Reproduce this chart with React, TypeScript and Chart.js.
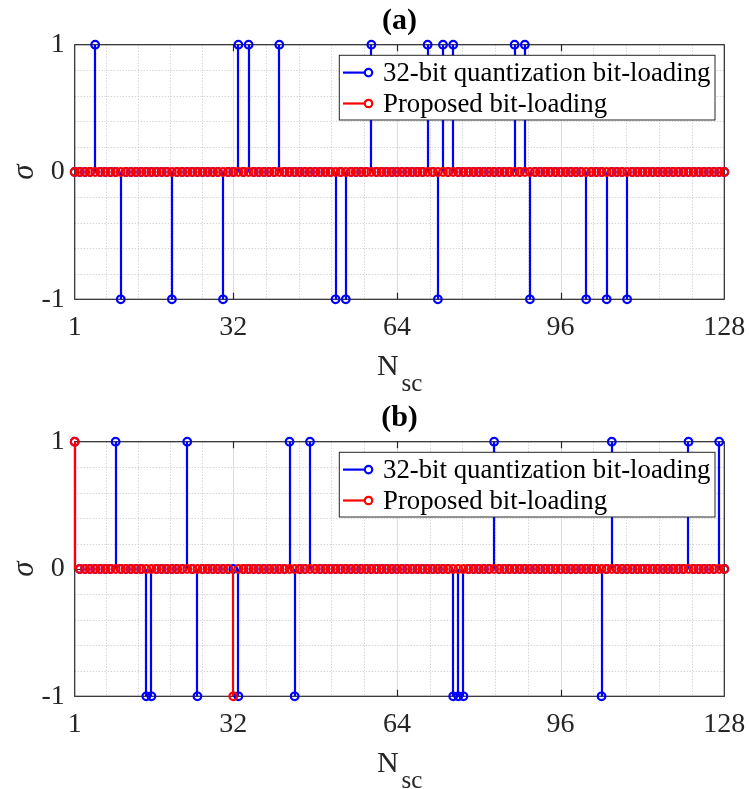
import React, { useEffect, useRef } from "react";
import { Chart, registerables } from "chart.js";

Chart.register(...registerables);

// ---------- data ----------
const N_SC: number[] = Array.from({ length: 128 }, (_, i) => i + 1);
const X_TICKS = [1, 32, 64, 96, 128];
const Y_TICKS = [-1, 0, 1];
const LEGEND_LABELS = ["32-bit quantization bit-loading", "Proposed bit-loading"];

// (a) 32-bit quantization bit-loading: subcarriers with sigma = +1 / -1
const A_QUANT_UP = [5, 33, 35, 41, 59, 70, 73, 75, 87, 89];
const A_QUANT_DOWN = [10, 20, 30, 52, 54, 72, 90, 101, 105, 109];
// (a) proposed bit-loading
const A_PROP_UP: number[] = [];
const A_PROP_DOWN: number[] = [];

// (b) 32-bit quantization bit-loading
const B_QUANT_UP = [1, 9, 23, 43, 47, 83, 106, 121, 127];
const B_QUANT_DOWN = [15, 16, 25, 33, 44, 75, 76, 77, 104];
// (b) proposed bit-loading
const B_PROP_UP = [1];
const B_PROP_DOWN = [32];

const BLUE = "#0000ff";
const RED = "#ff0000";
const FONT = '"Liberation Serif", "Times New Roman", Times, serif';

function series(up: number[], down: number[]) {
  return N_SC.map((n) => ({ x: n, y: up.includes(n) ? 1 : down.includes(n) ? -1 : 0 }));
}

// ---------- plugins ----------
const PLOT_TOP = 44.7;
const PLOT_BOTTOM = 299.3;
const PLOT_LEFT = 74.7;
const PLOT_RIGHT = 724.3;

const stemPlugin = {
  id: "stems",
  beforeDatasetDraw(chart: any, args: any) {
    const meta = args.meta;
    const ds = chart.data.datasets[args.index];
    const y0 = chart.scales.y.getPixelForValue(0);
    const ctx = chart.ctx;
    ctx.save();
    ctx.strokeStyle = ds.borderColor;
    ctx.lineWidth = 2.2;
    ctx.beginPath();
    meta.data.forEach((pt: any) => {
      if (Math.abs(pt.y - y0) > 0.5) {
        const x = Math.round(pt.x);
        ctx.moveTo(x, y0);
        ctx.lineTo(x, pt.y);
      }
    });
    ctx.stroke();
    ctx.restore();
  },
};

const gridPlugin = {
  id: "matlabGrid",
  beforeDatasetsDraw(chart: any) {
    const ctx = chart.ctx;
    const { left, right, top, bottom } = chart.chartArea;
    const xs = chart.scales.x;
    const ys = chart.scales.y;
    ctx.save();
    // minor dotted grid
    ctx.strokeStyle = "#c4c4c4";
    ctx.lineWidth = 1;
    ctx.setLineDash([1, 2]);
    ctx.beginPath();
    for (let i = 0; i < X_TICKS.length - 1; i++) {
      const a = X_TICKS[i], b = X_TICKS[i + 1];
      for (let k = 1; k < 5; k++) {
        const px = Math.round(xs.getPixelForValue(a + ((b - a) * k) / 5)) + 0.5;
        ctx.moveTo(px, top);
        ctx.lineTo(px, bottom);
      }
    }
    for (let i = 0; i < Y_TICKS.length - 1; i++) {
      const a = Y_TICKS[i], b = Y_TICKS[i + 1];
      for (let k = 1; k < 5; k++) {
        const py = Math.round(ys.getPixelForValue(a + ((b - a) * k) / 5)) + 0.5;
        ctx.moveTo(left, py);
        ctx.lineTo(right, py);
      }
    }
    ctx.stroke();
    // major grid
    ctx.setLineDash([]);
    ctx.strokeStyle = "#dedede";
    ctx.beginPath();
    X_TICKS.slice(1, -1).forEach((v) => {
      const px = Math.round(xs.getPixelForValue(v)) + 0.5;
      ctx.moveTo(px, top);
      ctx.lineTo(px, bottom);
    });
    Y_TICKS.slice(1, -1).forEach((v) => {
      const py = Math.round(ys.getPixelForValue(v)) + 0.5;
      ctx.moveTo(left, py);
      ctx.lineTo(right, py);
    });
    ctx.stroke();
    // box + tick marks
    ctx.strokeStyle = "#262626";
    ctx.lineWidth = 1.2;
    ctx.strokeRect(left, top, right - left, bottom - top);
    ctx.beginPath();
    const tl = 6.5;
    X_TICKS.slice(1, -1).forEach((v) => {
      const px = Math.round(xs.getPixelForValue(v)) + 0.5;
      ctx.moveTo(px, top);
      ctx.lineTo(px, top + tl);
      ctx.moveTo(px, bottom);
      ctx.lineTo(px, bottom - tl);
    });
    Y_TICKS.slice(1, -1).forEach((v) => {
      const py = Math.round(ys.getPixelForValue(v)) + 0.5;
      ctx.moveTo(left, py);
      ctx.lineTo(left + tl, py);
      ctx.moveTo(right, py);
      ctx.lineTo(right - tl, py);
    });
    ctx.stroke();
    ctx.restore();
  },
};

function makeTextPlugin(title: string) {
  return {
    id: "matlabText",
    afterDraw(chart: any) {
      const ctx = chart.ctx;
      const { left, right, top, bottom } = chart.chartArea;
      const cx = (left + right) / 2;
      ctx.save();
      // legend
      const bx = 339.3, by = 55.3, bw = 375.7, bh = 64.7;
      ctx.fillStyle = "#ffffff";
      ctx.fillRect(bx, by, bw, bh);
      ctx.strokeStyle = "#262626";
      ctx.lineWidth = 1;
      ctx.strokeRect(bx, by, bw, bh);
      const rows = [by + 17.3, by + 48.2];
      const cols = [BLUE, RED];
      rows.forEach((ry, i) => {
        ctx.strokeStyle = cols[i];
        ctx.lineWidth = 2.2;
        ctx.beginPath();
        ctx.moveTo(343, ry);
        ctx.lineTo(368.5, ry);
        ctx.stroke();
        ctx.beginPath();
        ctx.arc(368.5, ry, 3.7, 0, Math.PI * 2);
        ctx.fillStyle = "#ffffff";
        ctx.fill();
        ctx.lineWidth = 2.2;
        ctx.stroke();
        ctx.fillStyle = "#000000";
        ctx.font = `26.8px ${FONT}`;
        ctx.textBaseline = "middle";
        ctx.textAlign = "left";
        ctx.fillText(LEGEND_LABELS[i], 383, ry + 1.5);
      });
      // title
      ctx.fillStyle = "#000000";
      ctx.font = `bold 30px ${FONT}`;
      ctx.textAlign = "center";
      ctx.textBaseline = "alphabetic";
      ctx.fillText(title, cx, top - 16);
      // y label
      ctx.fillStyle = "#262626";
      ctx.save();
      ctx.translate(33, (top + bottom) / 2);
      ctx.rotate(-Math.PI / 2);
      ctx.font = `italic 31px ${FONT}`;
      ctx.textAlign = "center";
      ctx.textBaseline = "alphabetic";
      ctx.fillText("σ", 0, 0);
      ctx.restore();
      // x label N_sc
      ctx.font = `30px ${FONT}`;
      ctx.textAlign = "left";
      ctx.textBaseline = "alphabetic";
      ctx.fillText("N", 377, bottom + 75.7);
      ctx.font = `25px ${FONT}`;
      ctx.fillText("sc", 401.5, bottom + 91.5);
      ctx.restore();
    },
  };
}

// ---------- component ----------
function StemChart({ title, quant, prop, height }: { title: string; quant: any[]; prop: any[]; height: number }) {
  const ref = useRef<HTMLCanvasElement | null>(null);
  useEffect(() => {
    if (!ref.current) return;
    const tickFont = { family: FONT, size: 28 };
    const pointCommon = {
      showLine: false,
      backgroundColor: "rgba(0,0,0,0)",
      pointRadius: 3.8,
      pointBorderWidth: 2.2,
      pointBackgroundColor: "rgba(255,255,255,0)",
      clip: false,
    };
    const chart = new Chart(ref.current, {
      type: "line",
      data: {
        datasets: [
          { ...pointCommon, label: LEGEND_LABELS[0], data: quant, borderColor: BLUE, pointBorderColor: BLUE, order: 2 },
          { ...pointCommon, label: LEGEND_LABELS[1], data: prop, borderColor: RED, pointBorderColor: RED, order: 1 },
        ],
      },
      options: {
        animation: false,
        responsive: false,
        devicePixelRatio: 1,
        events: [],
        layout: { padding: { top: PLOT_TOP, right: 749 - PLOT_RIGHT, left: 0, bottom: 0 } },
        plugins: { legend: { display: false }, tooltip: { enabled: false }, title: { display: false } },
        scales: {
          x: {
            type: "linear",
            min: 1,
            max: 128,
            afterBuildTicks: (s: any) => {
              s.ticks = X_TICKS.map((v) => ({ value: v }));
            },
            afterFit: (s: any) => {
              s.height = height - PLOT_BOTTOM;
              s.paddingLeft = 0;
              s.paddingRight = 0;
            },
            grid: { display: false, drawTicks: false },
            border: { display: false },
            ticks: {
              font: tickFont,
              color: "#262626",
              padding: 12,
              maxRotation: 0,
              autoSkip: false,
              callback: (v: any) => String(v),
            },
          },
          y: {
            type: "linear",
            min: -1,
            max: 1,
            afterBuildTicks: (s: any) => {
              s.ticks = Y_TICKS.map((v) => ({ value: v }));
            },
            afterFit: (s: any) => {
              s.width = PLOT_LEFT;
              s.paddingTop = 0;
              s.paddingBottom = 0;
            },
            grid: { display: false, drawTicks: false },
            border: { display: false },
            ticks: {
              font: tickFont,
              color: "#262626",
              padding: 10,
              callback: (v: any) => String(v),
            },
          },
        },
      } as any,
      plugins: [gridPlugin, stemPlugin, makeTextPlugin(title)],
    });
    return () => chart.destroy();
  }, [title, quant, prop, height]);
  return <canvas ref={ref} width={749} height={height} style={{ display: "block", width: 749, height }} />;
}

const A_QUANT = series(A_QUANT_UP, A_QUANT_DOWN);
const A_PROP = series(A_PROP_UP, A_PROP_DOWN);
const B_QUANT = series(B_QUANT_UP, B_QUANT_DOWN);
const B_PROP = series(B_PROP_UP, B_PROP_DOWN);

export default function App() {
  return (
    <div style={{ position: "absolute", left: 0, top: 0, width: 749, height: 789, background: "#ffffff" }}>
      <StemChart title="(a)" quant={A_QUANT} prop={A_PROP} height={397} />
      <StemChart title="(b)" quant={B_QUANT} prop={B_PROP} height={392} />
    </div>
  );
}
